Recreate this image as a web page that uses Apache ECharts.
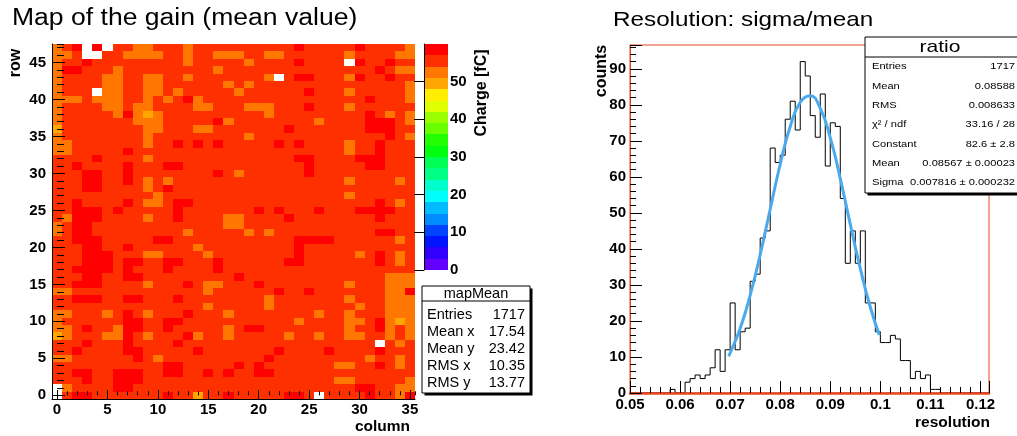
<!DOCTYPE html>
<html>
<head>
<meta charset="utf-8">
<title>Gain map and resolution</title>
<script src="https://cdn.jsdelivr.net/npm/echarts@6.0.0/dist/echarts.min.js"></script>
<style>
html,body{margin:0;padding:0;background:#ffffff;}
#chart{width:1017px;height:436px;}
</style>
</head>
<body>
<div id="chart"></div>
<script>
// ---------------- Left panel: map of the gain (mean charge, fC) ----------------
// One string per row, from row 47 (top) down to row 0 (bottom); one letter per column 0..35.
// Letter = colour band; '.' = empty channel.
const mapRowsTopDown = [
  "ORD.D. RROORR RORRRR RRRRRR DRRRRR DRRRRO", // 47
  "OOR..R ROOOOR RORROO ORROOR RRRRRO RRRROO", // 46
  "ORRDRR RRRRRR RORRRR RORRRR DRRRR. DRRDRR", // 45
  "ODDRRR ORRRRR RRRROR RRRRRR RRRRRR RRDROO", // 44
  "ORRRRO ORROOR RORRRR RRRO.R DDRRRO DRRDRR", // 43
  "ORRRRO ORROOR RRRRRO RORRRR RRRRRR RRRRRO", // 42
  "ORRR.O ORROOR ORRRRR ORRRRR RDRRRO RRRRRO", // 41
  "OOOROO ORRORO RDORRR RRRRRR RRRRRR RDRRRO", // 40
  "ORRRRO OROORR RROORR ROOORR RDRRRO RRRRRR", // 39
  "ORRRRR ODOYOR RRRRRR RRRORR RRRRRR RDRORO", // 38
  "ORRRRR RROOOR RRRRDO RRRRRR RRORRR RDDDRO", // 37
  "YRRRRR RRROOR RROORR RRRRRD RRRRRR RDDDRR", // 36
  "ORRRRR RRRORR RRRRRR RORRRR RRRRRR RRRDRO", // 35
  "OORRRR RRRORR DRDRDR RRRRDR DRRRRO RRDRRR", // 34
  "OORRRR RDRRRR RRRRRR RRRRRR RRRRRO RRDRRR", // 33
  "RRRRDR RRRORR RRRRRR RRRRRR DDRRRR DDDRRR", // 32
  "RRDRRR RDRRRD DRRRRR RRRRRR RDRRRR RDDRRR", // 31
  "RRRDDR RDRRRR RRRRDR ORRRRR RDRRRR RRRRRR", // 30
  "RRRDDR RDRORO RRRRRR RRRRRR RRRRRO RRRROR", // 29
  "RRRDDR RRRORD RRRRRR RRRRRR RRRRRR RRRRRR", // 28
  "RRRRRR RRRROR RRRRRR RRRRRR RRRRRO RRRRRR", // 27
  "RRDRRR RDROOR DDRRRR RRRRRR RRRRRR RRDROR", // 26
  "RRDDDR DRRRRR DRRRRR RRDRDR RRDRRR DDDDRR", // 25
  "RODDDR RRRORR DRRRRO ORRRRD RRRRRR RRDRRR", // 24
  "ORDDRR RRRRRR RRRRRO ORRRRR RRRRRR RRRRRR", // 23
  "ORDDRR RRRRRR RORRRR RORORR RRRRRR RRDDRR", // 22
  "RRDDDR RRRRDD RRRRRR RRRRRR DDDDRR RRRROR", // 21
  "RRRDDR RDRRRR RRORRR RRRRRR DRRRRR RRRRRR", // 20
  "RRRDDD RRROOR RRRORR RRRRRR DRRRRR ORDROR", // 19
  "RRRDDD RDDRRD DRRRDR RRRRRD DRRRRR RRDROR", // 18
  "RRDDDD RDRRRD RRRRDR RRRRRR RRRRRR RRRRRR", // 17
  "RRRDDR RDDRRR RRRRRR DRRRRR RRRRRR RRROOO", // 16
  "RRDDDR RRRORR RDROOR RRDRRR RRRRRO RRROOO", // 15
  "OORRRR RRRRRR RRRORR RRRRDR RDRRRR RRROOD", // 14
  "RRDDDR RDDRRR DRRRRR RRRORR RRRRRO RRROOO", // 13
  "RRRRRR RRRRRR RRRORR RRRORR RRRRRR ORROOO", // 12
  "OORRRO RDRORR RDRRRO RRRRRR RRORRO RRROOO", // 11
  "ORRRRR RDDRRD DRRRRR RRRRRR ORRRRO ORDOYO", // 10
  "OORDRR ODDRRD RRRRRO RDDRRR RRRRRO RRDORO", // 9
  "YORRRO ODRORR RDORRO RRRRRO RRORRO ORRORO", // 8
  "RRRDRR RDRRRR DRRRRR RRRRRR RRRRRR RR.ROR", // 7
  "RRDRRR RDDRRR RRDRRR RRRRDR RRRDRR RRDRRR", // 6
  "OORRRR RRDROR RRRRRR RRRDRR RRRRRR RORROR", // 5
  "RRRRRR RRRRRD DRRRRR DRDRRR RRRROO RRDROR", // 4
  "RRDDRR DDDRRD DRRDRD RRDDRR RRRRRR RRRRRR", // 3
  "RRRDRR DDDRRR RRRRRR RRRRRR RRRROO RRRRRO", // 2
  ".ORRRR DDRRRR RRRRRR RRRRRR RRRRRR DDRROO", // 1
  ".RDDRR RRRRRD RRYRRD RRRRRD DR.RRR RDRROD"  // 0
];
// Estimated charge (fC) for each colour band seen in the map
const bandValue = { Y: 49.5, O: 52.5, R: 55.5, D: 58.5 };
// Colour palette of the z scale (bottom to top), 0 .. 60 fC
const paletteColors = ['#6300ff','#3300ff','#0014ff','#0044ff','#008bff','#00bbff','#00fffc','#00ffcc','#00ff85','#00ff55',
                       '#00ff0e','#22ff00','#69ff00','#99ff00','#e0ff00','#ffee00','#ffa700','#ff7700','#ff3000','#ff0000'];
const zMax = 60;
const mapStatsTitle = 'mapMean';
const mapStatsLabels = ['Entries', 'Mean x', 'Mean y', 'RMS x', 'RMS y'];
const mapStatsValues = ['1717', '17.54', '23.42', '10.35', '13.77'];

// ---------------- Right panel: resolution histogram ----------------
const binStart = 0.05;
const binWidth = 0.001;
const counts = [
  0, 0, 0, 0, 0, 0, 0, 0, 1, 0,      // 0.050 - 0.059
  0, 3, 4, 5, 4, 5, 7, 12, 6, 12,    // 0.060 - 0.069
  25, 12, 17, 18, 31, 33, 43, 45, 68, 64, // 0.070 - 0.079
  66, 76, 81, 73, 92, 88, 77, 71, 83, 63, // 0.080 - 0.089
  75, 74, 54, 36, 45, 36, 45, 25, 25, 17, // 0.090 - 0.099
  14, 14, 16, 15, 9, 9, 4, 6, 4, 5,      // 0.100 - 0.109
  1, 1, 0, 0, 0, 0, 0, 0, 0, 0,          // 0.110 - 0.119
  0, 0                                   // 0.120 - 0.121
];
// Gaussian fit curve
const fitX = [0.0697, 0.070, 0.072, 0.074, 0.076, 0.078, 0.080, 0.082, 0.084, 0.086, 0.088, 0.090, 0.092, 0.094, 0.096, 0.098, 0.0998];
const fitY = [10.2, 11.1, 17.9, 27.1, 38.4, 51.0, 63.5, 74.0, 80.7, 82.5, 79.0, 70.9, 59.5, 46.8, 34.5, 23.8, 16.1];
const ratioStatsTitle = 'ratio';
const ratioStatsLabels = ['Entries', 'Mean', 'RMS', 'χ² / ndf', 'Constant', 'Mean', 'Sigma'];
const ratioStatsValues = ['1717', '0.08588', '0.008633', '33.16 / 28', '82.6 ± 2.8', '0.08567 ± 0.00023', '0.007816 ± 0.000232'];

// ---------------- build ----------------
const FONT = '"Liberation Sans", Arial, Helvetica, sans-serif';
const RED = '#e8461e';

const mapData = [];
mapRowsTopDown.forEach(function (s, i) {
  const row = mapRowsTopDown.length - 1 - i;
  const cells = s.replace(/\s+/g, '');
  for (let c = 0; c < cells.length; c++) {
    const ch = cells[c];
    if (bandValue[ch] !== undefined) mapData.push([c, row, bandValue[ch]]);
  }
});

const nBands = paletteColors.length;
const bandStep = zMax / nBands;
const pieces = paletteColors.map(function (color, i) {
  return i === nBands - 1 ? { gte: i * bandStep, lte: zMax, color: color } : { gte: i * bandStep, lt: (i + 1) * bandStep, color: color };
});
const colorbarData = paletteColors.map(function (c, i) { return [0.5, (i + 0.5) * bandStep, i]; });

const histData = counts.map(function (n, k) { return [+(binStart + k * binWidth).toFixed(4), n]; });
histData.push([+(binStart + counts.length * binWidth).toFixed(4), 0]);
const fitData = fitX.map(function (x, i) { return [x, fitY[i]]; });

const labelStyle = { color: '#000', fontFamily: FONT, fontWeight: 'bold', fontSize: 15 };
const blackLine = { color: '#000', width: 1 };

function rectCell(p0, p1) {
  const x0 = Math.round(p0[0]), y0 = Math.round(p0[1]);
  const x1 = Math.round(p1[0]), y1 = Math.round(p1[1]);
  return { x: x0, y: y0, width: x1 - x0, height: y1 - y0 };
}

function txt(x, y, text, font, align, rotation, sx) {
  return { type: 'text', x: x, y: y, rotation: rotation || 0, scaleX: sx || 1, z: 100,
    style: { text: text, font: font, fill: '#000', align: align || 'left', verticalAlign: 'middle' } };
}

function statsBox(b) {
  const els = [];
  els.push({ type: 'rect', z: 98, shape: { x: b.x + b.shadow, y: b.y + b.shadow, width: b.w, height: b.h }, style: { fill: '#000' } });
  els.push({ type: 'rect', z: 99, shape: { x: b.x, y: b.y, width: b.w, height: b.h }, style: { fill: '#fff', stroke: '#000', lineWidth: 1 } });
  els.push({ type: 'line', z: 100, shape: { x1: b.x, y1: b.sepY, x2: b.x + b.w, y2: b.sepY }, style: { stroke: '#000', lineWidth: 1 } });
  els.push(txt(b.titleX, b.titleY, b.title, b.titleFont, 'center', 0, b.titleScale));
  b.labels.forEach(function (l, i) {
    els.push(txt(b.x + b.padL, b.rowY0 + i * b.rowStep, l, b.font, 'left', 0, b.textScale));
    els.push(txt(b.valueRight, b.rowY0 + i * b.rowStep, b.values[i], b.font, 'right', 0, b.textScale));
  });
  return els;
}

const graphics = [].concat(
  [
    txt(12, 19, 'Map of the gain (mean value)', '23px ' + FONT, 'left', 0, 1.154),
    txt(613, 20, 'Resolution: sigma/mean', '21px ' + FONT, 'left', 0, 1.155),
    txt(16, 63, 'row', 'bold 16px ' + FONT, 'center', Math.PI / 2),
    txt(410, 427, 'column', 'bold 15.5px ' + FONT, 'right'),
    txt(482, 93, 'Charge [fC]', 'bold 16px ' + FONT, 'center', Math.PI / 2),
    txt(602, 71, 'counts', 'bold 16px ' + FONT, 'center', Math.PI / 2),
    txt(990, 423, 'resolution', 'bold 15.5px ' + FONT, 'right')
  ],
  statsBox({ x: 422, y: 286, w: 108, h: 107, shadow: 2.5, sepY: 301, title: mapStatsTitle, titleX: 476, titleY: 294,
    titleFont: '14.5px ' + FONT, titleScale: 1, labels: mapStatsLabels, values: mapStatsValues, rowY0: 315, rowStep: 17,
    padL: 5, valueRight: 525, font: '14.5px ' + FONT, textScale: 1 }),
  statsBox({ x: 865, y: 37, w: 162, h: 156, shadow: 2.5, sepY: 57, title: ratioStatsTitle, titleX: 940, titleY: 47,
    titleFont: '17px ' + FONT, titleScale: 1.24, labels: ratioStatsLabels, values: ratioStatsValues, rowY0: 66.7, rowStep: 19.3,
    padL: 7, valueRight: 1015, font: '9.5px ' + FONT, textScale: 1.17 })
);

const option = {
  animation: false,
  backgroundColor: '#fff',
  grid: [
    { left: 52, top: 44, width: 363, height: 355, show: false },
    { left: 424, top: 44, width: 24, height: 226, show: false },
    { left: 630, top: 45, width: 359, height: 348, show: true, borderColor: RED, borderWidth: 1, backgroundColor: 'transparent' }
  ],
  xAxis: [
    { gridIndex: 0, type: 'value', min: -0.5, max: 35.5, minInterval: 5, maxInterval: 5, position: 'bottom', z: 5,
      axisLine: { show: true, onZero: false, lineStyle: blackLine },
      axisTick: { show: true, inside: true, length: 9, lineStyle: blackLine },
      axisLabel: Object.assign({ showMinLabel: false, showMaxLabel: false, margin: 3 }, labelStyle),
      splitLine: { show: false } },
    { gridIndex: 0, type: 'value', min: -0.5, max: 35.5, minInterval: 1, maxInterval: 1, position: 'bottom', z: 5,
      axisLine: { show: false }, axisTick: { show: true, inside: true, length: 4, lineStyle: blackLine },
      axisLabel: { show: false }, splitLine: { show: false } },
    { gridIndex: 1, type: 'value', min: 0, max: 1, show: false },
    { gridIndex: 2, type: 'value', min: 0.05, max: 0.1217, interval: 0.01, position: 'bottom', z: 5,
      axisLine: { show: true, onZero: false, lineStyle: { color: RED, width: 2.5 } },
      axisTick: { show: true, inside: true, length: 12, lineStyle: blackLine },
      minorTick: { show: true, splitNumber: 5, length: 6, lineStyle: blackLine },
      axisLabel: Object.assign({ showMinLabel: true, showMaxLabel: false, margin: 4 }, labelStyle),
      splitLine: { show: false }, minorSplitLine: { show: false } }
  ],
  yAxis: [
    { gridIndex: 0, type: 'value', min: -0.5, max: 47.5, minInterval: 5, maxInterval: 5, position: 'left', z: 5,
      axisLine: { show: true, onZero: false, lineStyle: blackLine },
      axisTick: { show: true, inside: true, length: 13, lineStyle: blackLine },
      axisLabel: Object.assign({ showMinLabel: false, showMaxLabel: false, margin: 6 }, labelStyle),
      splitLine: { show: false } },
    { gridIndex: 0, type: 'value', min: -0.5, max: 47.5, minInterval: 1, maxInterval: 1, position: 'left', z: 5,
      axisLine: { show: false }, axisTick: { show: true, inside: true, length: 7, lineStyle: blackLine },
      axisLabel: { show: false }, splitLine: { show: false } },
    { gridIndex: 1, type: 'value', min: 0, max: zMax, interval: 10, position: 'right', z: 5,
      axisLine: { show: true, lineStyle: blackLine },
      axisTick: { show: true, inside: true, length: 10, lineStyle: blackLine },
      axisLabel: Object.assign({ showMaxLabel: false, margin: 2 }, labelStyle),
      splitLine: { show: false } },
    { gridIndex: 2, type: 'value', min: 0, max: 96.6, interval: 10, position: 'left', z: 5,
      axisLine: { show: true, onZero: false, lineStyle: { color: RED, width: 1 } },
      axisTick: { show: true, inside: true, length: 12, lineStyle: blackLine },
      minorTick: { show: true, splitNumber: 5, length: 6, lineStyle: blackLine },
      axisLabel: Object.assign({ showMaxLabel: false, margin: 4 }, labelStyle),
      splitLine: { show: false }, minorSplitLine: { show: false } }
  ],
  visualMap: [
    { type: 'piecewise', show: false, seriesIndex: 0, dimension: 2, pieces: pieces }
  ],
  series: [
    { type: 'custom', name: 'mapMean', xAxisIndex: 0, yAxisIndex: 0, data: mapData, encode: { x: 0, y: 1 },
      renderItem: function (params, api) {
        const x = api.value(0), y = api.value(1);
        return { type: 'rect', shape: rectCell(api.coord([x - 0.5, y + 0.5]), api.coord([x + 0.5, y - 0.5])),
          style: { fill: api.visual('color') } };
      } },
    { type: 'custom', name: 'palette', xAxisIndex: 2, yAxisIndex: 2, data: colorbarData, encode: { x: 0, y: 1 },
      renderItem: function (params, api) {
        const i = api.value(2);
        return { type: 'rect', shape: rectCell(api.coord([0, (i + 1) * bandStep]), api.coord([1, i * bandStep])),
          style: { fill: paletteColors[i] } };
      } },
    { type: 'line', name: 'ratio', xAxisIndex: 3, yAxisIndex: 3, data: histData, step: 'end', symbol: 'none',
      lineStyle: { color: '#000', width: 1 }, itemStyle: { color: '#000' }, z: 2 },
    { type: 'line', name: 'fit', xAxisIndex: 3, yAxisIndex: 3, data: fitData, smooth: true, symbol: 'none',
      lineStyle: { color: '#4aaaf0', width: 3 }, itemStyle: { color: '#4aaaf0' }, z: 3 }
  ],
  graphic: graphics
};

const chart = echarts.init(document.getElementById('chart'), null, { renderer: 'canvas' });
chart.setOption(option);
</script>
</body>
</html>
